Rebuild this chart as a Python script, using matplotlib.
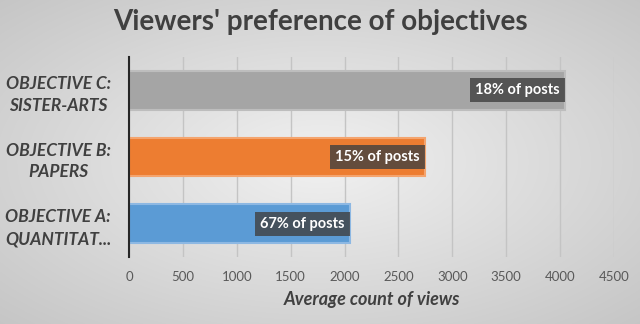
import numpy as np
from matplotlib import pyplot as plt

categories = ["OBJECTIVE A:\nQUANTITAT...", "OBJECTIVE B:\nPAPERS", "OBJECTIVE C:\nSISTER-ARTS"]
avg_views = [2050, 2745, 4045]
post_share = ["67% of posts", "15% of posts", "18% of posts"]
colors = ["#5B9BD5", "#ED7D31", "#A5A5A5"]
edges = ["#8DB8E3", "#F4A46E", "#BDBDBD"]

plt.rcParams['font.family'] = ['Lato', 'DejaVu Sans']

fig = plt.figure(figsize=(6.4, 3.24), dpi=100)

# radial grey background
bg = fig.add_axes([0, 0, 1, 1])
yy, xx = np.mgrid[-1:1:324j, -1:1:640j]
r = np.sqrt(xx**2 + yy**2)
shade = np.clip(0.945 - 0.12 * r, 0, 1)
bg.imshow(np.dstack([shade] * 3), aspect='auto', extent=[0, 1, 0, 1])
bg.axis('off')

ax = fig.add_axes([129 / 640, 1 - 257 / 324, (614 - 129) / 640, 200 / 324])
ax.patch.set_alpha(0)

y = np.arange(len(categories))
ax.barh(y, avg_views, height=0.58, color=colors, edgecolor=edges, linewidth=1.5, zorder=3)

for yi, v, lab in zip(y, avg_views, post_share):
    ax.text(v - 50, yi, lab, ha='right', va='center', color='white', fontsize=10.5,
            fontweight='bold', zorder=4,
            bbox=dict(boxstyle='square,pad=0.35', facecolor='#404040', alpha=0.8, edgecolor='none'))

ax.set_xlim(0, 4500)
ax.set_ylim(-0.5, 2.5)
ax.set_xticks(np.arange(0, 4501, 500))
ax.set_yticks(y)
ax.set_yticklabels(categories, fontsize=12.5, fontweight='bold', fontstyle='italic',
                   color='#404040', ha='center', linespacing=1.45)
ax.tick_params(axis='y', length=0, pad=51)
ax.tick_params(axis='x', length=0, pad=10, labelsize=9.5, labelcolor='#595959')
ax.grid(axis='x', color='#C4C4C4', linewidth=1, zorder=0)
for s in ['top', 'right', 'bottom']:
    ax.spines[s].set_visible(False)
ax.spines['left'].set_color('#262626')
ax.spines['left'].set_linewidth(1.5)
ax.spines['left'].set_zorder(5)

ax.set_xlabel("Average count of views", fontsize=13, fontweight='bold', fontstyle='italic',
              color='#404040', labelpad=6)

fig.text(0.5, 1 - 22 / 324, "Viewers' preference of objectives", ha='center', va='center',
         fontsize=20, fontweight='bold', color='#404040')

plt.savefig('out.png', dpi=100)
